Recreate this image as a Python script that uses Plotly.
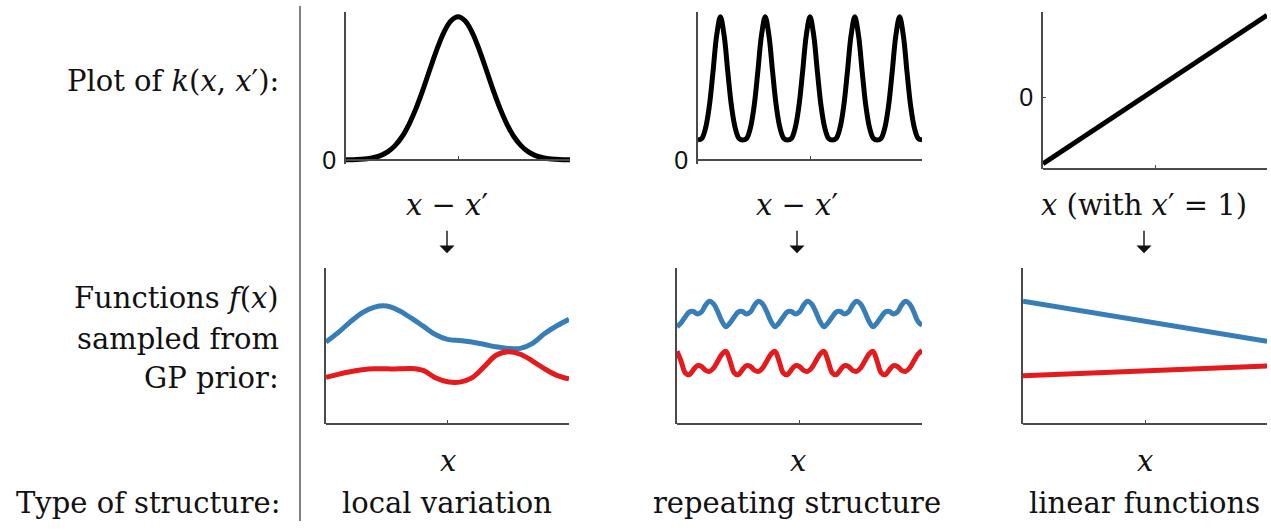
import numpy as np
import plotly.graph_objects as go

W, H = 1271, 531

# ---- kernel curves (top row) ----
se_x = np.linspace(-4, 4, 33)
se_k = [0.001, 0.002, 0.004, 0.008, 0.017, 0.032, 0.058, 0.100, 0.162, 0.249, 0.360, 0.491,
        0.635, 0.774, 0.893, 0.972, 1.000, 0.972, 0.893, 0.774, 0.635, 0.491, 0.360, 0.249,
        0.162, 0.100, 0.058, 0.032, 0.017, 0.008, 0.004, 0.002, 0.001]

per_x = np.linspace(-2.5, 2.5, 61)
per_k = [0.14, 0.15, 0.22, 0.37, 0.61, 0.87, 1.00, 0.87, 0.61, 0.37, 0.22, 0.15,
         0.14, 0.15, 0.22, 0.37, 0.61, 0.87, 1.00, 0.87, 0.61, 0.37, 0.22, 0.15,
         0.14, 0.15, 0.22, 0.37, 0.61, 0.87, 1.00, 0.87, 0.61, 0.37, 0.22, 0.15,
         0.14, 0.15, 0.22, 0.37, 0.61, 0.87, 1.00, 0.87, 0.61, 0.37, 0.22, 0.15,
         0.14, 0.15, 0.22, 0.37, 0.61, 0.87, 1.00, 0.87, 0.61, 0.37, 0.22, 0.15,
         0.14]

lin_x = [-1.0, 1.0]
lin_k = [-0.93, 1.14]

# ---- GP prior samples (bottom row) ----
se_fx = np.linspace(0, 10, 21)
se_blue = [0.20, 0.68, 1.23, 1.71, 1.99, 2.04, 1.81, 1.43, 1.01, 0.58, 0.33,
           0.28, 0.20, 0.08, -0.05, -0.13, -0.13, 0.13, 0.63, 1.03, 1.36]
se_red = [-1.61, -1.46, -1.33, -1.23, -1.18, -1.18, -1.18, -1.16, -1.26, -1.64, -1.84,
          -1.86, -1.64, -1.08, -0.48, -0.30, -0.43, -0.78, -1.18, -1.51, -1.69]

per_fx = np.linspace(0, 5, 61)
per_blue = [0.98, 1.18, 1.48, 1.74, 1.76, 1.64, 1.74, 2.09, 2.29, 2.14, 1.74, 1.26,
            0.98, 1.18, 1.48, 1.74, 1.76, 1.64, 1.74, 2.09, 2.29, 2.14, 1.74, 1.26,
            0.98, 1.18, 1.48, 1.74, 1.76, 1.64, 1.74, 2.09, 2.29, 2.14, 1.74, 1.26,
            0.98, 1.18, 1.48, 1.74, 1.76, 1.64, 1.74, 2.09, 2.29, 2.14, 1.74, 1.26,
            0.98, 1.18, 1.48, 1.74, 1.76, 1.64, 1.74, 2.09, 2.29, 2.14, 1.74, 1.26,
            1.05]
per_red = [-0.28, -0.78, -1.38, -1.48, -1.23, -1.01, -1.06, -1.26, -1.31, -1.13, -0.78, -0.43,
           -0.28, -0.78, -1.38, -1.48, -1.23, -1.01, -1.06, -1.26, -1.31, -1.13, -0.78, -0.43,
           -0.28, -0.78, -1.38, -1.48, -1.23, -1.01, -1.06, -1.26, -1.31, -1.13, -0.78, -0.43,
           -0.28, -0.78, -1.38, -1.48, -1.23, -1.01, -1.06, -1.26, -1.31, -1.13, -0.78, -0.43,
           -0.28, -0.78, -1.38, -1.48, -1.23, -1.01, -1.06, -1.26, -1.31, -1.13, -0.78, -0.43,
           -0.23]

lin_fx = [-1.0, 1.0]
lin_blue = [2.29, 0.23]
lin_red = [-1.53, -1.03]

# ---- text ----
row_labels = ["Plot of <i>k</i>(<i>x</i>, <i>x</i>′):", "Functions <i>f</i>(<i>x</i>)",
              "sampled from", "GP prior:", "Type of structure:"]
kernel_xlabels = ["<i>x</i> − <i>x</i>′", "<i>x</i> − <i>x</i>′", "<i>x</i> (with <i>x</i>′ = 1)"]
structure_names = ["local variation", "repeating structure", "linear functions"]

BLUE = "#377eb8"
RED = "#e41a1c"
AXIS = "#4a4a4a"
SERIF = "DejaVu Serif"
SANS = "Liberation Sans, Arial, sans-serif"
TXT = 29


def fx(p):
    return p / W


def fy(p):
    return 1 - p / H


fig = go.Figure()

# panel boxes in pixels: left, right, top, bottom, x-range, y-range, x-tick, y-tick
panels = [
    (346, 570, 12, 163, [-4, 4], [0, 1.035], 0, [0]),
    (698, 922, 12, 163, [-2.5, 2.5], [0, 1.035], 0, [0]),
    (1043, 1267, 12, 172, [-1, 1], [-1, 1.19], 0, [0]),
    (326, 569, 273, 432, [0, 10], [-4, 4], 5, []),
    (677, 922, 273, 432, [0, 5], [-4, 4], 2.5, []),
    (1023, 1267, 273, 432, [-1, 1], [-4, 4], 0, []),
]

layout_axes = {}
for i, (l, r, t, b, xr, yr, xt, yt) in enumerate(panels, start=1):
    sx = "" if i == 1 else str(i)
    ext = 4 if yr[0] == 0 else 0  # room so curves lying on the baseline are not clipped
    span = yr[1] - yr[0]
    ylo = yr[0] - span * ext / (b - t)
    layout_axes["xaxis" + sx] = dict(
        domain=[fx(l), fx(r)], range=xr, anchor="free", position=fy(b),
        showline=True, linecolor=AXIS, linewidth=1.5, showgrid=False, zeroline=False,
        tickmode="array", tickvals=[xt], ticktext=[""], ticks="inside", ticklen=3,
        tickcolor=AXIS, tickwidth=1, fixedrange=True,
    )
    layout_axes["yaxis" + sx] = dict(
        domain=[fy(b + ext), fy(t)], range=[ylo, yr[1]], anchor="x" + sx,
        showline=True, linecolor=AXIS, linewidth=1.5, showgrid=False, zeroline=False,
        tickmode="array", tickvals=yt, ticktext=["0" for _ in yt],
        ticks="inside" if yt else "", ticklen=3, tickcolor=AXIS, tickwidth=1,
        ticklabelstandoff=3,
        tickfont=dict(family=SANS, size=25, color="#111"), fixedrange=True,
    )


def add_line(i, x, y, color, shape="spline"):
    sx = "" if i == 1 else str(i)
    fig.add_trace(go.Scatter(x=x, y=y, mode="lines", xaxis="x" + sx, yaxis="y" + sx,
                             line=dict(color=color, width=5, shape=shape, smoothing=1.0),
                             showlegend=False, hoverinfo="skip"))


add_line(1, se_x, se_k, "black")
add_line(2, per_x, per_k, "black")
add_line(3, lin_x, lin_k, "black", shape="linear")
add_line(4, se_fx, se_blue, BLUE)
add_line(4, se_fx, se_red, RED)
add_line(5, per_fx, per_blue, BLUE)
add_line(5, per_fx, per_red, RED)
add_line(6, lin_fx, lin_blue, BLUE, shape="linear")
add_line(6, lin_fx, lin_red, RED, shape="linear")

annotations = []


def text(s, x, y, size=TXT, anchor="center"):
    annotations.append(dict(text=s, x=fx(x), y=fy(y), xref="paper", yref="paper",
                            xanchor=anchor, yanchor="middle", showarrow=False,
                            font=dict(family=SERIF, size=size, color="#111")))


# row captions on the left
text(row_labels[0], 281, 83, anchor="right")
text(row_labels[1], 281, 304, anchor="right")
text(row_labels[2], 281, 345, anchor="right")
text(row_labels[3], 281, 385, anchor="right")
text(row_labels[4], 283, 513, anchor="right")

col_centers = [447, 797, 1144]
for c, xl, name in zip(col_centers, kernel_xlabels, structure_names):
    text(xl, c, 209)
    text("<i>x</i>", c + 1, 470)
    text(name, c, 513)
    # downward arrow between the two rows
    annotations.append(dict(text="", x=fx(c), y=fy(258), xref="paper", yref="paper",
                            ax=0, ay=-24, axref="pixel", ayref="pixel",
                            showarrow=True, arrowhead=1, arrowsize=1.8, arrowwidth=1.4,
                            arrowcolor="#111"))

fig.update_layout(
    width=W, height=H, margin=dict(l=0, r=0, t=0, b=0),
    paper_bgcolor="white", plot_bgcolor="rgba(0,0,0,0)",
    annotations=annotations,
    shapes=[dict(type="line", xref="paper", yref="paper",
                 x0=fx(300), x1=fx(300), y0=fy(6), y1=0,
                 line=dict(color="#555", width=1.5))],
    **layout_axes,
)

fig.write_html("out.html")
